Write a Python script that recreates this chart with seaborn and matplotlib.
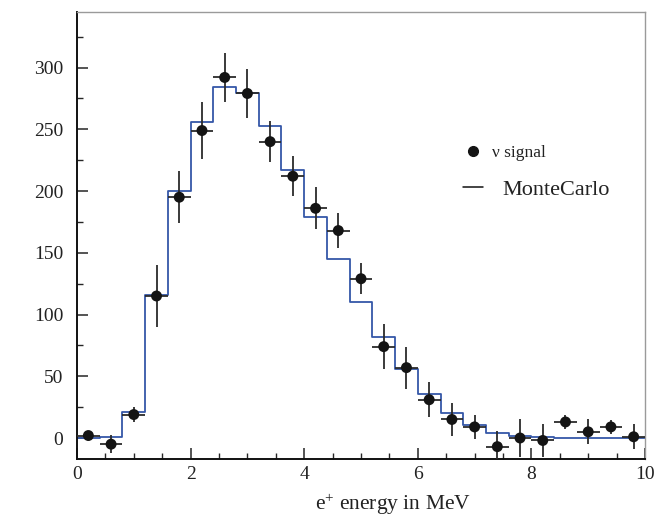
import numpy as np
import matplotlib
matplotlib.use("Agg")
import matplotlib.pyplot as plt
from matplotlib.lines import Line2D
from matplotlib.ticker import MultipleLocator
import pandas as pd
import seaborn as sns

# Positron energy bins (MeV): 25 bins of 0.4 MeV from 0 to 10
bin_width = 0.4
energy_range = (0.0, 10.0)
bin_centers = [0.2, 0.6, 1.0, 1.4, 1.8, 2.2, 2.6, 3.0, 3.4, 3.8, 4.2, 4.6, 5.0,
               5.4, 5.8, 6.2, 6.6, 7.0, 7.4, 7.8, 8.2, 8.6, 9.0, 9.4, 9.8]

# Measured neutrino signal (counts per bin) and its statistical errors
signal = [2, -5, 19, 115, 195, 249, 292, 279, 240, 212, 186, 168, 129,
          74, 57, 31, 15, 9, -7, 0, -2, 13, 5, 9, 1]
signal_err = [3, 7.5, 6, 25, 21, 23, 20, 20, 16.5, 16, 17, 14, 12.5,
              18, 17, 14, 13.5, 9.5, 13, 15, 13, 6, 10, 5.5, 10]

# Monte Carlo expectation per bin
monte_carlo = [0, 0.5, 21, 116, 200, 256, 284, 279.5, 253, 217, 179, 145, 110,
               82, 56, 35.5, 20.5, 10.5, 4, 1.6, 0.8, 0.2, 0.2, 0.2, 0.2]

df = pd.DataFrame({"energy": bin_centers, "signal": signal,
                   "err": signal_err, "mc": monte_carlo})

sns.set_theme(style="ticks")
plt.rcParams["font.family"] = ["Liberation Serif", "DejaVu Serif"]
plt.rcParams["mathtext.fontset"] = "custom"
plt.rcParams["mathtext.rm"] = "Liberation Serif"
plt.rcParams["mathtext.it"] = "Liberation Serif:italic"

fig = plt.figure(figsize=(6.61, 5.17), dpi=100)
ax = fig.add_axes([0.1165, 0.1122, 0.8593, 0.8646])

mc_color = "#3557a8"
sns.histplot(data=df, x="energy", weights="mc", binwidth=bin_width,
             binrange=energy_range, element="step", fill=False,
             color=mc_color, linewidth=1.3, ax=ax)

ax.errorbar(df["energy"], df["signal"], yerr=df["err"], xerr=bin_width / 2,
            fmt="none", ecolor="#2b2b2b", elinewidth=1.3, zorder=3)
sns.scatterplot(data=df, x="energy", y="signal", color="#141414", s=62,
                edgecolor="none", zorder=4, ax=ax)

ax.set_xlim(*energy_range)
ax.set_ylim(-17, 345)
ax.set_ylabel("")
ax.set_xlabel(r"e$^{+}$ energy in MeV", fontsize=15.5, color="#222222")
ax.xaxis.label.set_va("baseline")
ax.xaxis.set_label_coords(0.557, -0.113)

ax.xaxis.set_major_locator(MultipleLocator(2))
ax.xaxis.set_minor_locator(MultipleLocator(0.5))
ax.set_yticks(np.arange(0, 301, 50))
ax.yaxis.set_minor_locator(MultipleLocator(25))

ax.tick_params(axis="both", which="major", direction="in", length=8, width=1.1,
               labelsize=14, labelcolor="#222222", top=False, right=False)
ax.tick_params(axis="both", which="minor", direction="in", length=4.5, width=1.0,
               top=False, right=False)
ax.tick_params(axis="y", which="major", pad=10)
ax.tick_params(axis="x", which="major", pad=5)

for side in ("left", "bottom"):
    ax.spines[side].set_color("#111111")
    ax.spines[side].set_linewidth(1.4)
for side in ("top", "right"):
    ax.spines[side].set_color("#9a9a9a")
    ax.spines[side].set_linewidth(1.0)

# Two legend rows with their own text sizes
signal_handle = Line2D([], [], marker="o", linestyle="none", color="#141414",
                       markersize=7)
mc_handle = Line2D([], [], color="#111111", linewidth=1.1)

leg_signal = ax.legend([signal_handle], ["\u03bd signal"], loc="center left",
                       bbox_to_anchor=(0.6796, 0.6846), frameon=False,
                       borderpad=0, borderaxespad=0, handlelength=1.15,
                       handletextpad=0.5, fontsize=12.5, labelcolor="#222222")
ax.add_artist(leg_signal)
ax.legend([mc_handle], ["MonteCarlo"], loc="center left",
          bbox_to_anchor=(0.6796, 0.6018), frameon=False,
          borderpad=0, borderaxespad=0, handlelength=0.9,
          handletextpad=0.85, fontsize=16, labelcolor="#222222")

fig.savefig("out.png", dpi=100)
